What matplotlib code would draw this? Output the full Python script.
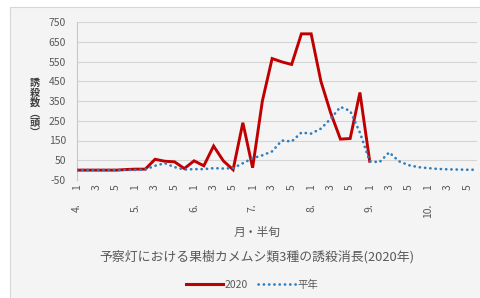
import matplotlib
matplotlib.use("Agg")
from matplotlib import pyplot as plt
from matplotlib.patches import Rectangle
from matplotlib.lines import Line2D
import matplotlib.transforms as mtransforms
import numpy as np

plt.rcParams['font.family'] = ['Noto Sans CJK JP', 'DejaVu Sans']

# categories: month x half-month period (半旬 1..6)
months = ['4.', '5.', '6.', '7.', '8.', '9.', '10.']
periods = [1, 2, 3, 4, 5, 6]

# 2020 catches (ends at 9.1)
catch_2020 = [0, 0, 0, 0, 0, 3, 5, 5, 55, 45, 42, 8,
              47, 22, 122, 47, 2, 240, 12, 350, 565, 548, 535, 690,
              690, 450, 290, 157, 160, 393, 45, None, None, None, None, None,
              None, None, None, None, None, None]
# normal year (平年)
catch_normal = [1, 1, 1, 1, 1, 1, 1, 3, 22, 35, 15, 3,
                5, 5, 10, 8, 10, 35, 60, 75, 95, 150, 145, 190,
                185, 210, 260, 320, 300, 190, 45, 40, 90, 45, 25, 15,
                10, 6, 4, 3, 2, 2]

yticks = list(range(-50, 751, 100))

W, H = 480, 298
fig = plt.figure(figsize=(W / 100, H / 100), dpi=100)
fig.patch.set_facecolor('white')
bg = Rectangle((10 / W, -0.05), 1.0, 1.05 - 7 / H, transform=fig.transFigure,
               facecolor='#f4f4f4', edgecolor='#d6d6d6', lw=0.8, zorder=-10)
fig.patches.append(bg)

ax = fig.add_axes([77 / W, 1 - 180 / H, 400 / W, 158 / H])
ax.set_zorder(2)
ax.set_facecolor('#f4f4f4')

x = np.arange(len(months) * len(periods))
y20 = np.array([np.nan if v is None else v for v in catch_2020], dtype=float)
ax.plot(x, y20, color='#c00000', lw=2.1, solid_joinstyle='miter', zorder=3)
ax.plot(x, catch_normal, color='#2e7dbf', lw=1.9, linestyle=(0, (0.1, 1.9)),
        dash_capstyle='round', zorder=4)

ax.set_xlim(0, x[-1])
ax.set_ylim(-50, 750)
ax.set_yticks(yticks)
ax.set_yticklabels([str(v) for v in yticks], fontsize=7.5, color='#595959')
ax.grid(axis='y', color='#d4d4d4', lw=0.8)
ax.set_axisbelow(True)

odd = [i for i in x if i % 2 == 0]
ax.set_xticks(odd)
ax.set_xticklabels([str(periods[i % 6]) for i in odd], rotation=90, fontsize=7.5,
                   color='#595959', va='top')
ax.tick_params(axis='both', length=0)
ax.tick_params(axis='x', pad=3)
ax.tick_params(axis='y', pad=8)

trans = mtransforms.blended_transform_factory(ax.transData, ax.transAxes)
for k, m in enumerate(months):
    ax.text(k * 6, -0.15, m, transform=trans, rotation=90, ha='center', va='top',
            fontsize=7.5, color='#595959')

for s in ['top', 'right', 'bottom']:
    ax.spines[s].set_visible(False)
ax.spines['left'].set_color('#c8c8c8')
ax.spines['left'].set_linewidth(0.8)

# stacked vertical y label
ylab = ['誘', '殺', '数', '︵', '頭', '︶']
for j, ch in enumerate(ylab):
    fig.text(35 / W, 1 - (83 + j * 10) / H, ch, ha='center', va='center',
             fontsize=7.3, fontweight='bold', color='#404040')

fig.text(257 / W, 1 - 232 / H, '月・半旬', ha='center', va='center',
         fontsize=8.5, color='#595959')
fig.text(257 / W, 1 - 257 / H, '予察灯における果樹カメムシ類3種の誘殺消長(2020年)',
         ha='center', va='center', fontsize=9.3, color='#595959')

handles = [Line2D([], [], color='#c00000', lw=2.2),
           Line2D([], [], color='#2e7dbf', lw=1.9, linestyle=(0, (0.1, 1.9)),
                  dash_capstyle='round')]
fig.legend(handles, ['2020', '平年'], loc='center', bbox_to_anchor=(252 / W, 1 - 285 / H),
           ncol=2, frameon=False, fontsize=7.5, handlelength=3.6, handletextpad=0.15,
           columnspacing=1.0, labelcolor='#595959')

fig.savefig('out.png', dpi=100, facecolor=fig.get_facecolor())
